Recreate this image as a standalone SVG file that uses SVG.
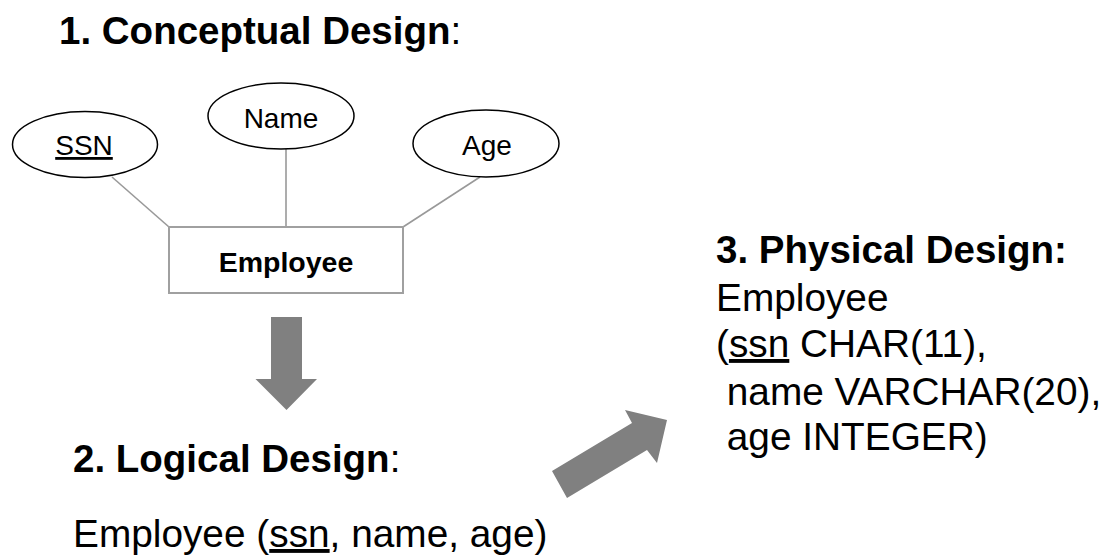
<svg xmlns="http://www.w3.org/2000/svg" width="1107" height="559" viewBox="0 0 1107 559">
<style>
text{font-family:"Liberation Sans",Arial,sans-serif;fill:#000}
.title{font-size:38.5px;font-weight:bold}
.reg{font-weight:normal}
.body{font-size:38.8px}
.attr{font-size:28px}
.ent{font-size:28.5px;font-weight:bold}
.ell{fill:#fff;stroke:#000;stroke-width:1.5}
.box{fill:#fff;stroke:#a0a0a0;stroke-width:2}
.link{stroke:#999;stroke-width:1.6;fill:none}
.big{fill:#808080}
.u{text-decoration:underline}
</style>
<rect width="1107" height="559" fill="#fff"/>
<text class="title" x="59" y="44">1. Conceptual Design<tspan class="reg">:</tspan></text>
<g id="connectors">
<line class="link" x1="112" y1="177" x2="169" y2="227"/>
<line class="link" x1="286" y1="149" x2="286" y2="227"/>
<line class="link" x1="480" y1="177" x2="403" y2="227"/>
</g>
<g id="ssn">
<ellipse class="ell" cx="85" cy="144.5" rx="72.5" ry="33"/>
<text class="attr" x="84" y="155" text-anchor="middle"><tspan class="u">SSN</tspan></text>
</g>
<g id="name">
<ellipse class="ell" cx="281" cy="116" rx="73" ry="33"/>
<text class="attr" x="281" y="128" text-anchor="middle">Name</text>
</g>
<g id="age">
<ellipse class="ell" cx="486" cy="143.5" rx="73" ry="33.5"/>
<text class="attr" x="487" y="155" text-anchor="middle">Age</text>
</g>
<g id="employee">
<rect class="box" x="169" y="227" width="234" height="66"/>
<text class="ent" x="286" y="272" text-anchor="middle">Employee</text>
</g>
<g id="arrows">
<polygon class="big" points="271,317 302,317 302,379 317,379 286.5,410 255.5,379 271,379"/>
<polygon class="big" points="552,471 632,423 625,410 667,420 657,463 647,450 567,498"/>
</g>
<g id="logical">
<text class="title" x="73" y="472">2. Logical Design<tspan class="reg">:</tspan></text>
<text class="body" x="73" y="547">Employee (<tspan class="u">ssn</tspan>, name, age)</text>
</g>
<g id="physical">
<text class="title" x="716" y="263">3. Physical Design:</text>
<text class="body" x="716" y="311">Employee</text>
<text class="body" x="716" y="357">(<tspan class="u">ssn</tspan> CHAR(11),</text>
<text class="body" x="716" y="405" xml:space="preserve"> name VARCHAR(20),</text>
<text class="body" x="716" y="450" xml:space="preserve"> age INTEGER)</text>
</g>
</svg>
